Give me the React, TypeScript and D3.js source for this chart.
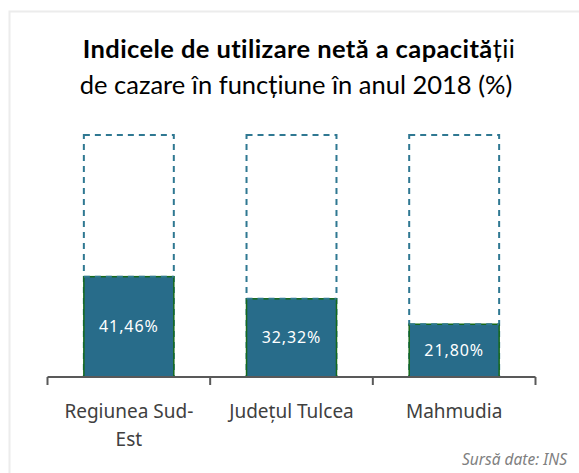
import React, { useEffect, useRef } from "react";
import * as d3 from "d3";

const categories = ["Regiunea Sud-Est", "Județul Tulcea", "Mahmudia"];
const categoryLines = [["Regiunea Sud-", "Est"], ["Județul Tulcea"], ["Mahmudia"]];
const values = [41.46, 32.32, 21.8];
const valueLabels = ["41,46%", "32,32%", "21,80%"];
const maxValue = 100;

const App = () => {
  const chartRef = useRef<SVGSVGElement>(null);

  useEffect(() => {
    const svg = d3.select(chartRef.current);
    svg.selectAll("*").remove(); // Clear previous draw

    const width = 579;
    const height = 473;
    svg.attr("width", width).attr("height", height);

    // light frame around the chart
    svg
      .append("rect")
      .attr("x", 9.5)
      .attr("y", 11.5)
      .attr("width", 620)
      .attr("height", 520)
      .attr("fill", "#fff")
      .attr("stroke", "#ececec")
      .attr("stroke-width", 2);

    // title
    const title = svg
      .append("text")
      .attr("x", 299)
      .attr("y", 58)
      .attr("text-anchor", "middle")
      .style("font-family", "Lato, 'Open Sans', sans-serif")
      .style("font-size", "25.5px")
      .style("letter-spacing", "0.4px")
      .style("fill", "#000");
    title.append("tspan").style("font-weight", "700").text("Indicele de utilizare netă a capacită");
    title.append("tspan").style("font-weight", "400").text("ții");

    svg
      .append("text")
      .attr("x", 296)
      .attr("y", 94)
      .attr("text-anchor", "middle")
      .style("font-family", "Lato, 'Open Sans', sans-serif")
      .style("font-size", "25.5px")
      .style("fill", "#000")
      .text("de cazare în funcțiune în anul 2018 (%)");

    const xScale = d3
      .scaleBand()
      .domain(categories)
      .range([47.5, 535.5])
      .paddingInner(0.447)
      .paddingOuter(0.2235);

    const yScale = d3.scaleLinear().domain([0, maxValue]).range([377, 135]);

    const data = categories.map((c, i) => ({ c, v: values[i], label: valueLabels[i], lines: categoryLines[i] }));

    // dashed 100% outline
    svg
      .selectAll(".outline")
      .data(data)
      .enter()
      .append("rect")
      .attr("class", "outline")
      .attr("x", (d) => xScale(d.c)!)
      .attr("y", yScale(maxValue))
      .attr("width", xScale.bandwidth())
      .attr("height", yScale(0) - yScale(maxValue))
      .attr("fill", "none")
      .attr("stroke", "#2f7892")
      .attr("stroke-width", 2)
      .attr("stroke-dasharray", "6 5");

    // bars
    svg
      .selectAll(".bar")
      .data(data)
      .enter()
      .append("rect")
      .attr("class", "bar")
      .attr("x", (d) => xScale(d.c)!)
      .attr("y", (d) => yScale(d.v))
      .attr("width", xScale.bandwidth())
      .attr("height", (d) => yScale(0) - yScale(d.v))
      .attr("fill", "#286c8a")
      .attr("stroke", "#16691a")
      .attr("stroke-width", 1.5);

    // dashed top on the bars
    svg
      .selectAll(".bartop")
      .data(data)
      .enter()
      .append("line")
      .attr("class", "bartop")
      .attr("x1", (d) => xScale(d.c)!)
      .attr("x2", (d) => xScale(d.c)! + xScale.bandwidth())
      .attr("y1", (d) => yScale(d.v))
      .attr("y2", (d) => yScale(d.v))
      .attr("stroke", "#2f7892")
      .attr("stroke-width", 2)
      .attr("stroke-dasharray", "6 5");

    // value labels
    svg
      .selectAll(".value")
      .data(data)
      .enter()
      .append("text")
      .attr("class", "value")
      .attr("x", (d) => xScale(d.c)! + xScale.bandwidth() / 2)
      .attr("y", (d) => (yScale(d.v) + yScale(0)) / 2)
      .attr("dy", "0.35em")
      .attr("text-anchor", "middle")
      .style("font-family", "'Noto Sans', 'Open Sans', sans-serif")
      .style("font-size", "16px")
      .style("letter-spacing", "0.9px")
      .style("fill", "#fff")
      .text((d) => d.label);

    // axis line + category separators
    const axisY = yScale(0);
    const step = xScale.step();
    const left = xScale(categories[0])! - xScale.paddingOuter() * step;
    svg
      .append("line")
      .attr("x1", left)
      .attr("x2", left + step * categories.length)
      .attr("y1", axisY)
      .attr("y2", axisY)
      .attr("stroke", "#595959")
      .attr("stroke-width", 2);
    svg
      .selectAll(".tick")
      .data(d3.range(categories.length + 1))
      .enter()
      .append("line")
      .attr("class", "tick")
      .attr("x1", (i) => left + i * step)
      .attr("x2", (i) => left + i * step)
      .attr("y1", axisY)
      .attr("y2", axisY + 8)
      .attr("stroke", "#595959")
      .attr("stroke-width", 2);

    // category labels
    const cat = svg
      .selectAll(".label")
      .data(data)
      .enter()
      .append("text")
      .attr("class", "label")
      .attr("text-anchor", "middle")
      .style("font-family", "'Noto Sans', 'Open Sans', sans-serif")
      .style("font-size", "19px")
      .style("fill", "#404040");
    cat
      .selectAll("tspan")
      .data((d) => d.lines.map((l) => ({ l, x: xScale(d.c)! + xScale.bandwidth() / 2 })))
      .enter()
      .append("tspan")
      .attr("x", (t) => t.x)
      .attr("y", (_t, i) => 418 + i * 28)
      .text((t) => t.l);

    // source
    svg
      .append("text")
      .attr("x", 567)
      .attr("y", 465)
      .attr("text-anchor", "end")
      .style("font-family", "'Noto Sans', 'Open Sans', sans-serif")
      .style("font-size", "15.5px")
      .style("font-style", "italic")
      .style("fill", "#7f7f7f")
      .text("Sursă date: INS");
  }, []);

  return <svg ref={chartRef} style={{ position: "absolute", left: 0, top: 0 }}></svg>;
};

export default App;
